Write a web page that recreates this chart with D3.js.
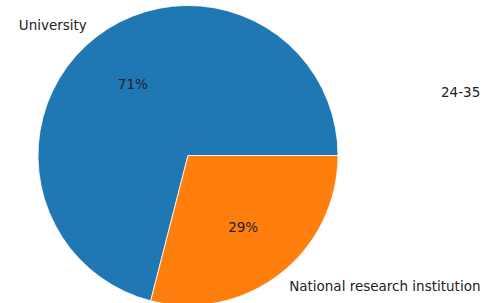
<!DOCTYPE html>
<html>
<head>
<meta charset="utf-8">
<script src="https://cdn.jsdelivr.net/npm/d3@7"></script>
<style>
  body { margin: 0; background: #fff; }
  text { font-family: "DejaVu Sans", sans-serif; font-size: 13.5px; fill: #222; }
</style>
</head>
<body>
<div id="wrapper"></div>
<script>
// data
const categories = ["University", "National research institution"]
const shares = [71, 29]
const colors = ["#1f77b4", "#ff7f0e"]
const sideLabel = "24-35 ranking"

const width = 485
const height = 303
const cx = 188
const cy = 155.5
const radius = 150

const svg = d3.select("#wrapper")
  .append("svg")
    .attr("width", width)
    .attr("height", height)

const g = svg.append("g")
    .attr("transform", `translate(${cx},${cy})`)

// matplotlib style: start at 3 o'clock, counterclockwise
const pie = d3.pie()
  .sort(null)
  .value(d => d)
  .startAngle(Math.PI / 2)
  .endAngle(Math.PI / 2 - 2 * Math.PI)

const arcs = pie(shares)

const arc = d3.arc().innerRadius(0).outerRadius(radius)
const labelArc = d3.arc().innerRadius(radius * 1.1).outerRadius(radius * 1.1)
const pctArc = d3.arc().innerRadius(radius * 0.6).outerRadius(radius * 0.6)

g.selectAll(".slice")
    .data(arcs)
  .enter().append("path")
    .attr("class", "slice")
    .attr("d", arc)
    .attr("fill", (d, i) => colors[i])
    .attr("stroke", "#fff")
    .attr("stroke-width", 0.8)
    .attr("stroke-linejoin", "round")

g.selectAll(".label")
    .data(arcs)
  .enter().append("text")
    .attr("class", "label")
    .attr("transform", d => `translate(${labelArc.centroid(d)})`)
    .attr("text-anchor", d => labelArc.centroid(d)[0] < 0 ? "end" : "start")
    .attr("dominant-baseline", "central")
    .text((d, i) => categories[i])

g.selectAll(".pct")
    .data(arcs)
  .enter().append("text")
    .attr("class", "pct")
    .attr("transform", d => `translate(${pctArc.centroid(d)})`)
    .attr("text-anchor", "middle")
    .attr("dominant-baseline", "central")
    .text(d => d3.format(".0f")(d.data) + "%")

svg.append("text")
    .attr("x", 441)
    .attr("y", 92)
    .attr("dominant-baseline", "central")
    .text(sideLabel)
</script>
</body>
</html>
